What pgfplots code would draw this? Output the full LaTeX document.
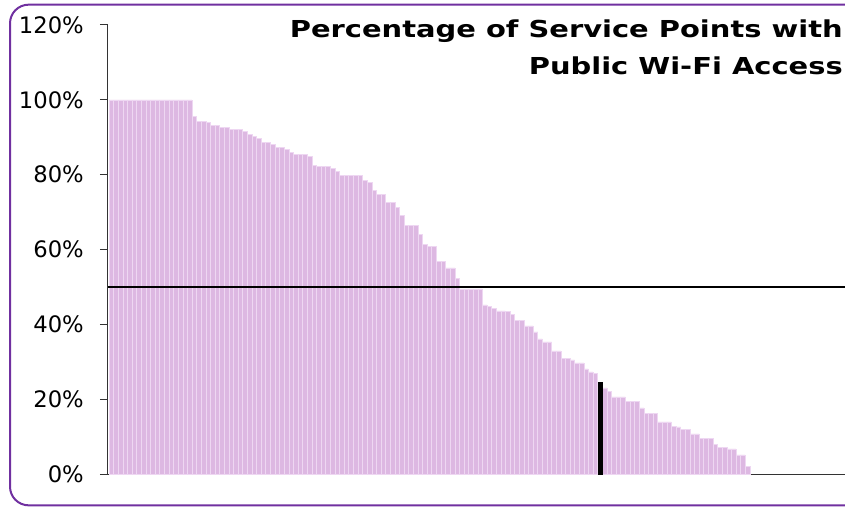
\documentclass[border=0pt]{standalone}
\usepackage{pgfplots}
\pgfplotsset{compat=1.18}
\usepackage{fontspec}
\setmainfont{DejaVu Sans}
\definecolor{barfill}{RGB}{221,184,226}
\definecolor{baredge}{RGB}{238,215,242}
\definecolor{framepurple}{RGB}{112,48,160}
\begin{document}
\begin{tikzpicture}
\path[use as bounding box] (0,0) rectangle (633.75pt,381pt);
\clip (0,0) rectangle (633.75pt,381pt);
% outer chart frame
\draw[framepurple, line width=1.5pt, rounded corners=14pt] (7.5pt,2pt) rectangle (660pt,377.5pt);
\begin{axis}[
  at={(81pt,25.5pt)}, anchor=south west,
  scale only axis, width=564pt, height=336.75pt,
  xmin=-0.72, xmax=162.4, ymin=0, ymax=120,
  axis x line*=bottom, axis y line*=left,
  axis line style={black!80, line width=0.75pt},
  xtick=\empty,
  ytick={0,20,40,60,80,100,120},
  yticklabels={0\%,20\%,40\%,60\%,80\%,100\%,120\%},
  tick align=outside, major tick length=6pt,
  tick style={black!80, line width=0.75pt},
  yticklabel style={font=\fontsize{17}{17}\selectfont, inner sep=0pt, xshift=-12pt},
  ybar, bar width=1, bar shift=0pt,
  clip=false,
]
\addplot[fill=barfill, draw=baredge, line width=0.4pt] table {
x y
0 100
1 100
2 100
3 100
4 100
5 100
6 100
7 100
8 100
9 100
10 100
11 100
12 100
13 100
14 100
15 100
16 100
17 100
18 95.6
19 94.2
20 94.2
21 94.0
22 93.2
23 93.2
24 92.6
25 92.6
26 92.1
27 92.1
28 92.1
29 91.5
30 90.7
31 90.2
32 89.7
33 88.6
34 88.6
35 88.1
36 87.3
37 87.3
38 86.7
39 85.9
40 85.4
41 85.4
42 85.4
43 84.9
44 82.5
45 82.2
46 82.2
47 82.2
48 81.6
49 80.8
50 79.8
51 79.8
52 79.8
53 79.8
54 79.8
55 78.4
56 77.9
57 75.8
58 74.7
59 74.7
60 72.5
61 72.5
62 71.2
63 69.1
64 66.4
65 66.4
66 66.4
67 64.0
68 61.3
69 60.8
70 60.8
71 56.8
72 56.8
73 55.1
74 55.1
75 52.2
76 49.5
77 49.5
78 49.5
79 49.5
80 49.5
81 45.2
82 44.7
83 44.2
84 43.6
85 43.6
86 43.4
87 42.6
88 41.0
89 41.0
90 39.6
91 39.6
92 38.0
93 36.1
94 35.3
95 35.3
96 32.9
97 32.9
98 30.8
99 30.8
100 30.5
101 29.7
102 29.7
103 28.1
104 27.3
105 26.8
107 23.0
108 22.0
109 20.6
110 20.6
111 20.6
112 19.5
113 19.5
114 19.5
115 17.7
116 16.3
117 16.3
118 16.3
119 13.9
120 13.9
121 13.9
122 12.8
123 12.6
124 12.0
125 12.0
126 10.7
127 10.7
128 9.6
129 9.6
130 9.6
131 8.0
132 7.2
133 7.2
134 6.7
135 6.7
136 5.1
137 5.1
138 2.1
};
\addplot[fill=black, draw=black, line width=0.2pt] table {
x y
106 24.6
};
\addplot[sharp plot, black, line width=2pt] coordinates {(-0.72,50) (162.4,50)};
\end{axis}
\node[anchor=base east, font=\bfseries\fontsize{17.5}{17.5}\selectfont, inner sep=0pt] at (632.25pt,352.5pt) {\scalebox{1.24}[1]{Percentage of Service Points with}};
\node[anchor=base east, font=\bfseries\fontsize{17.5}{17.5}\selectfont, inner sep=0pt] at (632.25pt,324.75pt) {\scalebox{1.24}[1]{Public Wi-Fi Access}};
\end{tikzpicture}
\end{document}
